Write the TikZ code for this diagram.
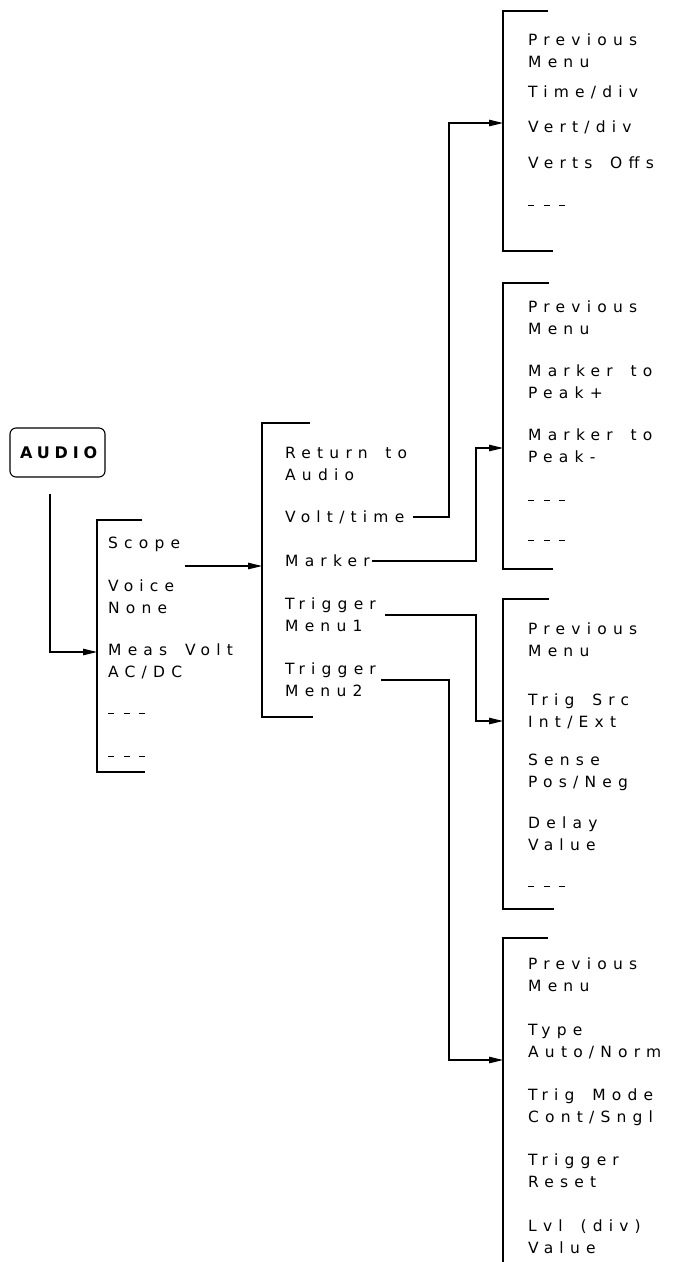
\documentclass[tikz,border=0pt]{standalone}
\usepackage{fontspec}
\newfontfamily\plotfont[LetterSpace=40,WordSpace=1.6,Ligatures={NoCommon}]{DejaVu Sans}
\newfontfamily\keyfont[LetterSpace=30]{DejaVu Sans}
\usetikzlibrary{arrows.meta}
\newcommand\oneL[1]{\rule{0pt}{11.5pt}\smash{#1}}
\newcommand\twoL[2]{\rule{0pt}{11.5pt}\smash{#1}\\\smash{#2}}
\newcommand\dashes{\rule[5pt]{6pt}{1pt}\hspace{9.5pt}\rule[5pt]{6pt}{1pt}\hspace{9.5pt}\rule[5pt]{6pt}{1pt}}
\tikzset{
  menuitem/.style={anchor=west, inner sep=0pt, align=left,
    font=\plotfont\fontsize{15.5}{22}\selectfont},
  bracketline/.style={line width=1.1pt},
  conn/.style={line width=1.1pt, -{Triangle[length=14pt,width=6.5pt]}},
  keybox/.style={draw, rounded corners=6pt, line width=1.1pt,
    minimum width=95pt, minimum height=49pt, inner sep=0pt,
    font=\keyfont\bfseries\fontsize{16}{18}\selectfont}
}
\begin{document}
\begin{tikzpicture}[x=1pt,y=-1pt]
\useasboundingbox (0,0) rectangle (674,1262);

% key
\node[keybox] (audio) at (57.5,452.5) {\kern2.3pt AUDIO};

% column coordinates for connectors
\coordinate (colL) at (449,0);
\coordinate (colR) at (476,0);

% ---------- menu 1
\draw[bracketline] (142,520) -- (97,520) -- (97,772) -- (145,772);
\coordinate (in1) at (97,652);
\node[menuitem] (s1) at (108,543)   {\oneL{Scope}};
\node[menuitem] (s2) at (108,596.5) {\twoL{Voice}{None}};
\node[menuitem] (s3) at (108,660.5) {\twoL{Meas Volt}{AC/DC}};
\node[menuitem] (s4) at (108,713.5) {\oneL{\dashes}};
\node[menuitem] (s5) at (108,756.5) {\oneL{\dashes}};

% ---------- menu 2
\draw[bracketline] (310,423) -- (262,423) -- (262,717) -- (313,717);
\coordinate (in2) at (262,566);
\coordinate (scopeout) at (185,566);
\node[menuitem] (r1) at (285,464) {\twoL{Return to}{Audio}};
\node[menuitem] (r2) at (285,517) {\oneL{Volt/time}};
\node[menuitem] (r3) at (285,561) {\oneL{Marker}};
\node[menuitem] (r4) at (285,615) {\twoL{Trigger}{Menu1}};
\node[menuitem] (r5) at (285,680) {\twoL{Trigger}{Menu2}};

% ---------- menu A
\draw[bracketline] (548,11) -- (503,11) -- (503,251) -- (553,251);
\coordinate (inA) at (503,123);
\node[menuitem] (a1) at (528,50.5) {\twoL{Previous}{Menu}};
\node[menuitem] (a2) at (528,92)   {\oneL{Time/div}};
\node[menuitem] (a3) at (528,127)  {\oneL{Vert/div}};
\node[menuitem] (a4) at (528,163)  {\oneL{Verts Of\kern0pt fs}};
\node[menuitem] (a5) at (528,205.5){\oneL{\dashes}};

% ---------- menu B
\draw[bracketline] (549,283) -- (503,283) -- (503,569) -- (553,569);
\coordinate (inB) at (503,448);
\node[menuitem] (b1) at (528,318)   {\twoL{Previous}{Menu}};
\node[menuitem] (b2) at (528,381.5) {\twoL{Marker to}{Peak+}};
\node[menuitem] (b3) at (528,446)   {\twoL{Marker to}{Peak-}};
\node[menuitem] (b4) at (528,500.5) {\oneL{\dashes}};
\node[menuitem] (b5) at (528,540.5) {\oneL{\dashes}};

% ---------- menu C
\draw[bracketline] (549,599) -- (503,599) -- (503,909) -- (554,909);
\coordinate (inC) at (503,721);
\node[menuitem] (c1) at (528,640)   {\twoL{Previous}{Menu}};
\node[menuitem] (c2) at (528,711)   {\twoL{Trig Src}{Int/Ext}};
\node[menuitem] (c3) at (528,771)   {\twoL{Sense}{Pos/Neg}};
\node[menuitem] (c4) at (528,834)   {\twoL{Delay}{Value}};
\node[menuitem] (c5) at (528,886.5) {\oneL{\dashes}};

% ---------- menu D
\draw[bracketline] (548,938) -- (503,938) -- (503,1262);
\coordinate (inD) at (503,1060);
\node[menuitem] (d1) at (528,974.5)  {\twoL{Previous}{Menu}};
\node[menuitem] (d2) at (528,1040.5) {\twoL{Type}{Auto/Norm}};
\node[menuitem] (d3) at (528,1106)   {\twoL{Trig Mode}{Cont/Sngl}};
\node[menuitem] (d4) at (528,1171)   {\twoL{Trigger}{Reset}};
\node[menuitem] (d5) at (528,1236.5) {\twoL{Lvl (div)}{Value}};

% ---------- connectors
\draw[conn] ([xshift=-7.5pt,yshift=-16pt]audio.south) |- (in1);
\draw[conn] (scopeout) -- (in2);
\draw[conn] ([xshift=8pt]r2.east) -| (colL |- inA) -- (inA);
\draw[conn] ([xshift=2pt]r3.east) -| (colR |- inB) -- (inB);
\draw[conn] ([xshift=9pt]r4.east) -| (colR |- inC) -- (inC);
\draw[conn] ([xshift=5pt]r5.east) -| (colL |- inD) -- (inD);
\end{tikzpicture}
\end{document}
